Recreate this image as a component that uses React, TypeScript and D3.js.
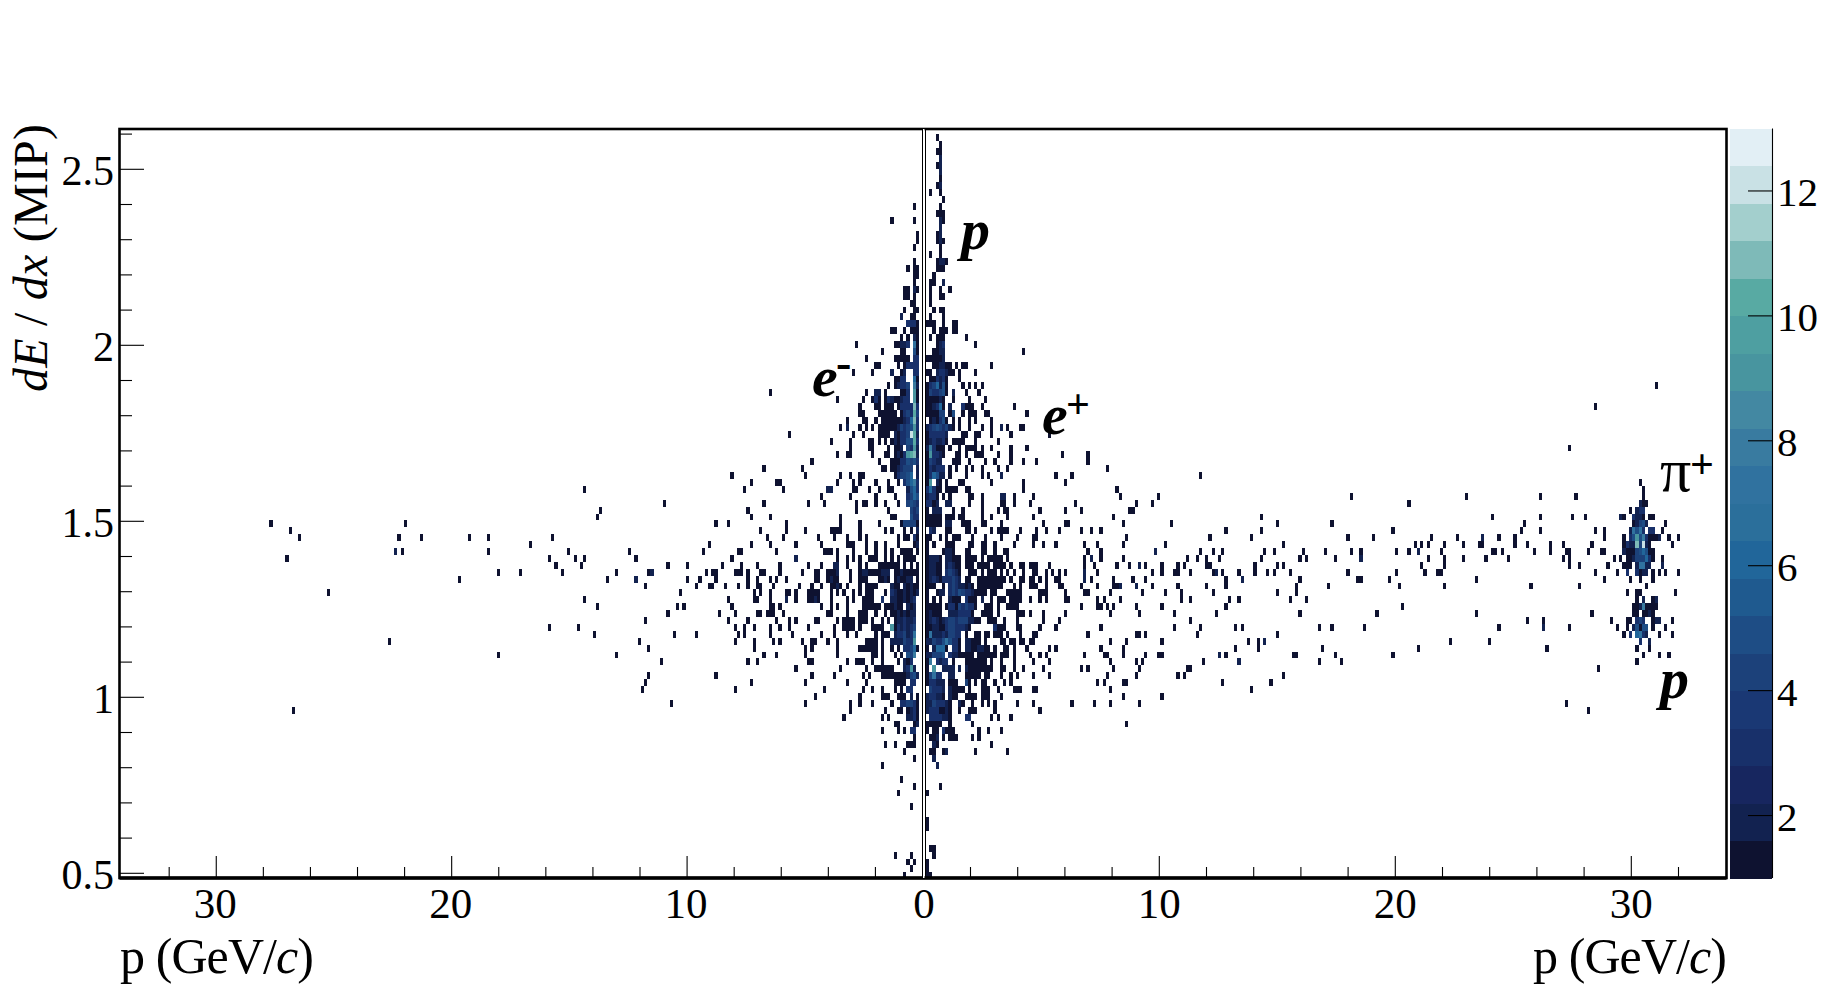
import React from "react";
import * as d3 from "d3";

// ---- histogram binning (GeV/c and MIP) ----
const binP = 0.136;
const pOrigin = 0.1144;
const binE = 0.0196;
const eTop = 2.6;

// ---- tick labels ----
const xMajor = [10, 20, 30];
const xMinor = [2, 4, 6, 8, 12, 14, 16, 18, 22, 24, 26, 28, 32];
const yMajor = [0.5, 1, 1.5, 2, 2.5];
const yMinor = [0.6, 0.7, 0.8, 0.9, 1.1, 1.2, 1.3, 1.4, 1.6, 1.7, 1.8, 1.9, 2.1, 2.2, 2.3, 2.4, 2.6];
const zTicks = [2, 4, 6, 8, 10, 12];

// ---- palette bands of the colour bar, low to high ----
const bandColors = [
  "#0e1230", "#122250", "#17265f", "#18306a", "#1a3874", "#1c417a", "#1e4d85", "#1f5a8f", "#21669a", "#2b6f9b",
  "#30729f", "#397ba0", "#4388a2", "#48959f", "#4e9fa1", "#58aaa3", "#7ebab8", "#a3cfcd", "#c9e1e5", "#e2eff5",
];

// ---- counts near p = 0, negative-charge panel: [dE/dx row, counts by momentum bin outward] ----
const leftDense: [number, string][] = [
  [10, "..1"], [12, "..1.. ....1"], [14, ".1"], [15, ".1"], [16, "..1"], [18, "..1"], [19, ".11.1"], [20, ".11"], [21, "..1"],
  [22, ".12.1 1"], [23, "..1.1 1"], [24, "..11"], [25, ".11.. 1"], [26, "..11. .2"], [27, ".1333"], [28, ".111. 1..11"],
  [29, ".12.1 .1"], [30, ".17.3 2211. ..... ..... 1"], [31, ".15.. 11... ..1"], [32, ".33.1 1111. ..... ..1"],
  [33, ".3333 1.1.. ...11"], [34, ".33.. 21..2 ..... 1.... .1"], [35, ".16.. 3311"], [36, ".28.4 3321. 1"],
  [37, ".19.3 11... .1.22 ..1"], [38, ".19.3 32112 31.13 1..1. ..... .1"], [39, ".3b33 331.1 11.11 ....1"],
  [40, ".4a34 31.11 1111. ...11"], [41, ".3b63 21111 111.1 ..11. ...1"],
  [42, ".3954 34211 1111. 1.1.1 ...2. 1"], [43, ".2ac4 3312. 1111. ...1. .1... ..... ..... ..... .1"],
  [44, ".3a55 33121 .1.1. 11... ..1.. ...1"], [45, ".2934 .211. 1.... 11... ..1."], [46, ".2ba9 3121. 11... 1.... ..11. .1"],
  [47, ".3545 33111 ...1. ..... ..... ..... ....1"], [48, ".2.44 43211 .11.. ..... ..... ..... ..... ..1"],
  [49, ".2.65 4431. ..... ...11 ..1.. 1.... ..... .1"], [50, ".3865 3.1.. 1...1 ....1 .1... .1... ..... ..... ....1"],
  [51, ".3652 ....1 1..1. .1... 11... ...22 ..... ..... ...1"], [52, ".5643 ...1. ....1 ..... ..1.. ..... .1"],
  [53, ".3454 ..1.. .1..1 ..11. 1.... ..... 1.... 1"], [54, ".434. ..... 1.... ..... 1"], [55, ".335. ...11 ..... ..... ..... 1"],
  [56, ".1444 41... ...1. ....1 ..... 1.... ..... ..... ..1"], [57, ".2.1. 1...1 .1... ....1 ..... 1111. ..... .1... ..1"],
  [58, ".13.1 1.1.. ..... ..1.1 ...1. ..1.. ..1.. ..... ...1"], [59, ".21.. ..1.. .1..1 ..1.. .111. ..... .1... ....1"],
  [60, ".1.11 11..1 .1..1 ..1.. .1... .1.11 1"], [61, "..111 1.1.1 .1..1 11..1 .1.1. .1... ..... ....2"],
  [62, ".1.1. 1.111 1111. ..1.1 ...1. .22.. .1... 1.... ....1"], [63, ".1111 1211. 22211 11221 ..1.. .2111 ..11. ..1"],
  [64, ".1.22 1121. 1211. ..111 ..1.. .1121 ..11. ..... ..1"], [65, ".1121 2.112 ....1 111.1 ...1. 1211. .1..1 ...1"],
  [66, ".2121 21123 .1... 111.1 .1..1 .1.1. ..111 1...1 .11"], [67, "..321 21122 ..3.. 1111. .1.1. ...1. ..121 1...1 ..2"],
  [68, "..212 .1121 11.11 1111. ...1. .1.1. .1"], [69, "..221 21211 .1..1 ..111 ...1. ...11 ..... ..... ...1"],
  [70, "..322 3221. 1.1.. 1.111 .1111 .1... ..11. ....1 .1"], [71, "..432 32319 ..111 1...1 .1111 ..1.. ..... 1.... .1"],
  [72, "..732 4332. 111.1 ..... 1..1. ..1.. .1... ..... 1"], [73, "..933 42222 ..1.1 111.. ..... .1..1 ...11 ..1.. ....1"],
  [74, ".1643 3.1.1 ..1.1 11111 ..... .1... ....1 .1"], [75, "..845 .1.1. ..1.1 1.... ..... .1... ..... .1"],
  [76, "...31 2.1.. ..1.. 1..11 1..1. ..... ....1 1"], [77, "..293 2...1 11111 ..1.. ..... 1.... ..... ....1"],
  [78, ".2542 11111 111.. .1.1. ..... ..1.. ....1"], [79, "..33. 1111. ..... ..1.. ...1. ..... ..... .1"],
  [80, "...33 .1.1. ..1.. 1..1. ..... ..... 1"], [81, ".1.2. 111.. 111.. ....1 ..... ..... ...1"],
  [82, ".1344 33..1 ..... 1...1 ..1.. ..... ..... .1"], [83, ".1321 .11.. .1... ..... ..1"], [84, ".1322 ..... 1.1.. ..... ....1"],
  [85, ".21.. ..11"], [86, "..33. 1.1.. ..1"], [87, "..1"], [88, "..111 ...1. .1"], [89, "..... 1"], [90, "..1"],
  [91, "..... ..... ..1"], [93, "..... .1"], [94, "..1"], [95, "..... ..1"], [97, "...1"], [104, "...1. ...1"],
  [105, "..1.1"], [106, "...1"], [107, "..... 1"],
];

// ---- counts near p = 0, positive-charge panel ----
const rightDense: [number, string][] = [
  [0, "...1"], [1, "....1"], [2, "...11"], [3, "....2"], [4, "...12"], [5, "....2"], [6, "....1"], [7, "...12"], [8, ".1..1"],
  [9, "..... 1"], [10, "....1"], [11, "...11 1"], [12, "....2 1"], [13, "....2"], [14, "...12"], [15, "...12 1"], [16, "....1"],
  [17, ".1..1"], [18, "...12 21"], [19, "...11 1"], [20, "..1"], [21, ".11.. 2"], [22, ".1..1 ..1"], [23, ".1..1 1"], [24, ".1"],
  [25, "..1.1 1"], [26, ".1... 1"], [27, "111.. 1..11"], [28, "..1.1 11.11"], [29, ".1.11 1.... ..1"], [30, "...12 3.... ..... 1"],
  [31, "..112 2.... ..... ..... ..... ..... 1"], [32, "11111 2"], [33, "..112 211.1 .11.. ..... 1"], [34, "11.23 3211. 1.... 1"],
  [35, ".1132 31... 1"], [36, "13462 51... .1.1. 1.1"], [37, "14334 51.2. ..1.. .1"], [38, "11112 1..1. ...1. ...1"],
  [39, "11236 1.2.. .3111 ..1.. ..... ..1"], [40, "11114 4.15. .1.11 1..11 ..... ..... .1"], [41, ".1213 51.1. 1..1. 1.... 1"],
  [42, "23454 3421. 1..1. ..1.. 1..2. 1...1 1"], [43, "13333 32... .11.. 11... 1.... .1... ..... ...1"], [44, "12322 31.11 11... 1.... ..1.."],
  [45, "28311 1.1.. 1.111 1.1.. 1.... .1... .1"], [46, "19332 1...1 1.1.. 111.. ..1.. .1... ..... ..... ..1"],
  [47, "14322 ...11 1..1. ...1. .1... .1... 1...1"], [48, "13233 3.1.1 ..1.1 ..1.. ..1.. 1"],
  [49, "13652 2.1.. ..1.. ..1.1 ...2. ..... ..... ..... 1.... 1"], [50, "19.21 .1... 11... ..... 1.... ..... 1.... ..... ...1"],
  [51, "36311 .1111 ..11. ..... ..... ..... 1"], [52, "2331. 1.1.. ...11 ..1.. ...22 ..1.. ...1"],
  [53, "3312. .22.. ...1. ..1.. ...11 ..1.. ..1.. ..... ..... .1"], [54, "1.222 ...1. .1... ..1.. ..1.1 1.... ..... 1.... ...1"],
  [55, "11111 .111. 11... ..1.. 1.... 1.... ...1"], [56, "11111 .22.. .111. ..11. ...1. ..... ..... .1... ...11"],
  [57, ".32.. .11.. ..11. 1.... 1.111 1...1 ....1 ..1.. .1"], [58, "11..1 .1.11 1...1 ...1. ...1. ...1. ...11"],
  [59, "1.1.. .111. ...11 ..11. .1... ..1.. ...1. .1... 1"], [60, "1.... 1221. ..11. ..11. .1..1 1"],
  [61, "12221 .2211 1.111 1.1.1 1111. 1"], [62, "12211 .2321 1.111 .1111 .1111 .1..1 1.111 ...1"],
  [63, "12211 .3432 1..11 1.1.1 11.1. 1.1.. 1..11 ..1.1 .1.1"], [64, "12321 33343 2.11. .1111 11111 .1..1 1.11. 1.1.. 11"],
  [65, "111.. 1.343 22121 .1111 1111. ..1.1 ..111 ..1.. .11"], [66, "1..12 2.343 54332 1111. 11... 11111 ..... 111.. ...1"],
  [67, "1.1.1 ..211 1.311 1.2.. 1.111 .1111 ..1.. 1.1.. ...11"], [68, "11111 .1331 43433 1..11 1.1.. 1111"],
  [69, "12111 ..222 33331 ..111 1.1.. ...11 1.1.. .1... ...1"], [70, "12321 23443 44422 11..1 11..1 ...1. ..... .1... .1"],
  [71, "11221 13443 3321. ..... .3111 ...11 ..... 1.... 1"], [72, "17222 32443 3.1.. 11.11 .111. 1...1 ...11"],
  [73, "22433 57533 1.221 11.1. ...11 .11.1 1.11"], [74, "1.266 61.33 1.221 12211 .1..1 1.1.. .1... ...1. 1"],
  [75, "22444 5.322 11111 .1111 11.11 1.1.. ..1.. 1.1.."], [76, "18.32 33.1. ..111 1111. 1..1. ..1.. ...1. ...1"],
  [77, "1.9.. 2222. 2.211 11111 1..11 ..1.. 1.... .1"], [78, "14733 ..22. ..111 11.11 ...1. .1.1. ...1. ...1"],
  [79, "13322 2.111 ..41. 1.11. .1..1 .1"], [80, ".4333 2.211 11.1. ..111 ..1.. ..111 ...11"], [81, "23322 1.211 ..111 1.111 ...1"],
  [82, "22433 321.. 21..1 ..1.1 .1... ...1. ...1. ..... ..... 1"], [83, "23331 121.. 1..11 1.... .1... ..... ..... 1"],
  [84, ".3333 221.. ..33. ..... 1.1.. .1"], [85, "11111 ..1.. ....1"], [86, "1.11. 3111. ..... .1..1 ...1"], [87, ".112. 1.111 ....1 .1"],
  [88, "..21. ..... ..... ..... 1"], [89, ".11.. 12... ..... 1.... ..... 1"], [90, "..2"], [91, "...2"], [94, "....1"], [95, "1"],
  [99, "1"], [100, "1"], [103, ".11"], [104, "..1"], [105, "1"], [106, "1"], [107, "11"],
];

// ---- the cluster of beam particles near +30 GeV/c; first momentum bin is clusterStart ----
const clusterStart = 214;
const beamCluster: [number, string][] = [
  [50, "........1"], [51, ".........1"], [52, ".........1"], [53, "........211"], [54, ".....1.233"], [55, "..21..3221.11"],
  [56, "......12452.....1"], [57, ".....27573.33..1"], [58, "...1.3595831112..1..1"], [59, "...1322b4c21......1"],
  [60, "...2111456511"], [61, "1.1.112444631..1"], [62, "...111.27722...2"], [63, ".1..3..3122.1.1.1...1"], [64, ".....1..1...1"],
  [65, "..........1"], [66, "....1..11..........1"], [67, ".......1.2..12"], [68, "......11281111"], [69, "......11.1121"],
  [70, "....11.343..122...1"], [71, ".1..1.25155.1...1"], [72, "...1.3.6732...1...1"], [73, "........3..2"], [74, ".......1...1"],
  [75, ".........1....1..1"], [76, ".......1"],
];

// ---- isolated single entries: [dE/dx row, momentum bins...] ----
const leftSparse: number[][] = [
  [37, 47], [48, 49], [49, 59], [50, 53, 44, 45], [51, 105, 55], [53, 80, 49], [54, 100, 54], [55, 101, 53, 47], [56, 64, 60, 203, 161],
  [57, 50, 197], [58, 135, 115, 48, 194, 163, 156, 141], [59, 122, 66, 53, 47], [60, 135, 110, 91, 68, 57, 56, 45, 162],
  [61, 116, 108, 105, 89, 59, 198], [62, 114, 106, 79, 73, 62, 56, 51, 44], [63, 132, 125, 112, 95, 85, 67, 65, 64, 58, 57, 56, 54, 50, 49, 44],
  [64, 98, 73, 69, 64, 54, 51, 47, 45, 144], [65, 86, 70, 66, 65, 61, 57, 54, 51, 50, 46], [66, 75, 52, 50, 47, 185], [67, 105, 60, 52, 51, 47],
  [68, 101, 76, 74, 59, 47, 46, 44], [69, 79, 63, 58, 51, 50, 48, 47, 46], [70, 86, 60, 54, 45], [71, 116, 107, 58, 55, 52, 47, 44],
  [72, 102, 77, 70, 57, 55, 47], [73, 88, 58, 52, 46, 44, 166], [74, 85, 52], [75, 132, 95, 49, 45], [76, 81, 54, 51], [78, 85, 64], [79, 86, 53],
  [80, 87, 58], [82, 78], [83, 196],
];
const rightSparse: number[][] = [
  [36, 227], [39, 208], [45, 200], [46, 50], [47, 50], [48, 56], [49, 85], [51, 59], [52, 60, 72, 132, 168, 191, 202], [53, 65, 70, 150],
  [54, 48, 63, 64], [55, 58, 104, 176, 191, 201, 205], [56, 61, 76, 109, 126, 186], [57, 48, 51, 54, 93, 104, 145, 185, 191, 208, 211],
  [58, 62, 88, 101, 131, 139, 157, 165, 178, 183, 211], [59, 49, 53, 61, 74, 111, 152, 154, 156, 161, 167, 172, 173, 183, 187, 194, 198, 207],
  [60, 50, 54, 85, 89, 92, 105, 108, 117, 124, 132, 135, 146, 150, 160, 176, 177, 179, 189, 194, 199, 200, 206, 210, 211],
  [61, 49, 54, 61, 81, 84, 87, 91, 104, 116, 118, 127, 156, 161, 167, 174, 181, 198, 200],
  [62, 49, 52, 59, 63, 68, 73, 78, 80, 87, 88, 102, 109, 111, 154, 161, 200, 203, 212],
  [63, 53, 70, 73, 77, 78, 82, 89, 92, 97, 102, 106, 108, 113, 131, 146, 155, 159, 160, 208],
  [64, 51, 58, 64, 68, 93, 116, 134, 135, 144, 171, 211], [65, 48, 53, 58, 59, 70, 78, 87, 93, 115, 125, 147, 161, 188, 203],
  [66, 49, 50, 57, 67, 74, 79, 89, 109, 115], [67, 53, 55, 60, 79, 82, 94, 97, 113, 118], [68, 48, 53, 54, 56, 58, 65, 73, 93, 148],
  [69, 57, 66, 77, 90, 116, 140, 171, 207], [70, 82, 187, 192, 213], [71, 54, 77, 85, 96, 98, 122, 126, 136, 178, 200],
  [72, 50, 65, 66, 68, 84, 109], [73, 57, 62, 73, 100, 103, 163, 175], [74, 54, 61, 96, 103, 123, 153, 193],
  [75, 49, 55, 56, 61, 68, 72, 73, 93, 114, 115, 127, 145], [76, 57, 65, 67, 86, 122, 129], [77, 48, 50, 58, 66, 81, 82, 209],
  [78, 56, 65, 78, 80, 111], [79, 53, 55, 61, 62, 92, 107], [80, 57, 101], [81, 61, 73], [82, 52, 57, 66, 199], [83, 206], [85, 62],
];

// ---- isolated double entries: [dE/dx row, momentum bin] ----
const leftDouble: [number, number][] = [[60, 164], [63, 84], [64, 89]];
const rightDouble: [number, number][] = [
  [60, 71], [61, 51], [61, 135], [62, 66], [63, 49], [63, 90], [64, 49], [64, 98], [65, 60], [65, 65], [73, 105], [75, 91], [76, 97],
  [58, 173], [60, 153], [71, 192],
];

type Cell = { side: "L" | "R"; k: number; r: number; n: number };

function parseRows(side: "L" | "R", rows: [number, string][], start = 0): Cell[] {
  const out: Cell[] = [];
  rows.forEach(([r, s]) => {
    s.replace(/ /g, "").split("").forEach((c, i) => {
      if (c !== ".") out.push({ side, k: start + i, r, n: parseInt(c, 16) });
    });
  });
  return out;
}
function parseSparse(side: "L" | "R", rows: number[][]): Cell[] {
  return rows.flatMap(([r, ...ks]) => ks.map((k) => ({ side, k, r, n: 1 })));
}

const cells: Cell[] = [
  ...parseRows("L", leftDense),
  ...parseRows("R", rightDense),
  ...parseRows("R", beamCluster, clusterStart),
  ...parseSparse("L", leftSparse),
  ...parseSparse("R", rightSparse),
  ...leftDouble.map(([r, k]) => ({ side: "L" as const, k, r, n: 2 })),
  ...rightDouble.map(([r, k]) => ({ side: "R" as const, k, r, n: 2 })),
];

const W = 1846, H = 992;
const frame = { l: 119.5, r: 1726.5, t: 129, b: 878 };
const xL = d3.scaleLinear().domain([0, 34]).range([922.5, 122.1]);
const xR = d3.scaleLinear().domain([0, 34]).range([923.3, 1725.7]);
const y = d3.scaleLinear().domain([2.5, 0.5]).range([169.3, 873.3]);
const zScale = d3.scaleLinear().domain([1, 13]).range([878, 128.5]);
const color = d3.scaleQuantize<string>().domain([1, 13]).range(bandColors);

const serif = "'Liberation Serif', 'Times New Roman', serif";

export default function App() {
  const rects = cells.map((c, i) => {
    const top = y(eTop - c.r * binE);
    const bot = Math.min(y(eTop - (c.r + 1) * binE), frame.b);
    let x0: number, x1: number;
    if (c.side === "L") {
      x0 = xL((c.k + 1) * binP);
      x1 = xL(c.k * binP);
    } else {
      x0 = xR(pOrigin + c.k * binP);
      x1 = xR(pOrigin + (c.k + 1) * binP);
    }
    return <rect key={i} x={x0} y={top} width={x1 - x0} height={bot - top} fill={color(c.n)} />;
  });
  const bandStep = 12 / bandColors.length;
  return (
    <svg width={W} height={H} viewBox={`0 0 ${W} ${H}`} style={{ position: "absolute", left: 0, top: 0, display: "block", background: "#fff" }} fontFamily={serif}>
      <g shapeRendering="crispEdges">{rects}</g>

      {/* colour bar */}
      <g shapeRendering="crispEdges">
        {bandColors.map((c, i) => (
          <rect key={c} x={1730} y={zScale(1 + (i + 1) * bandStep)} width={42} height={zScale(1 + i * bandStep) - zScale(1 + (i + 1) * bandStep) + 0.5} fill={c} />
        ))}
      </g>
      <line x1={1772.5} x2={1772.5} y1={128.5} y2={878} stroke="#000" strokeWidth={1.1} />
      {zTicks.map((t) => (
        <g key={t}>
          <line x1={1748} x2={1772} y1={zScale(t)} y2={zScale(t)} stroke="#000" strokeWidth={1.1} />
          <text x={1777} y={zScale(t) + 15} fontSize={41} fill="#000">{t}</text>
        </g>
      ))}

      {/* frame and the two panel edges at p = 0 */}
      <rect x={frame.l} y={frame.t} width={frame.r - frame.l} height={frame.b - frame.t} fill="none" stroke="#000" strokeWidth={2.6} />
      <line x1={frame.l} x2={frame.r} y1={frame.b} y2={frame.b} stroke="#000" strokeWidth={3.6} />
      <rect x={922.5} y={frame.t} width={2} height={frame.b - frame.t} fill="#fff" />
      <g shapeRendering="crispEdges">
        <line x1={922.5} x2={922.5} y1={frame.t} y2={frame.b} stroke="#000" strokeWidth={1} />
        <line x1={925.5} x2={925.5} y1={frame.t} y2={frame.b} stroke="#000" strokeWidth={1} />
      </g>

      {/* y axis */}
      {yMajor.map((v) => (
        <g key={v}>
          <line x1={120} x2={144} y1={y(v)} y2={y(v)} stroke="#000" strokeWidth={1.1} />
          <text x={114} y={y(v) + 15.5} fontSize={42} textAnchor="end" fill="#000">{v}</text>
        </g>
      ))}
      {yMinor.map((v) => (
        <line key={v} x1={120} x2={132} y1={y(v)} y2={y(v)} stroke="#000" strokeWidth={1.1} />
      ))}

      {/* x axes */}
      {xMajor.map((v) => (
        <g key={v}>
          <line x1={xL(v)} x2={xL(v)} y1={frame.b} y2={frame.b - 22} stroke="#000" strokeWidth={1.1} />
          <line x1={xR(v)} x2={xR(v)} y1={frame.b} y2={frame.b - 22} stroke="#000" strokeWidth={1.1} />
          <text x={xL(v) - 1} y={918} fontSize={43} textAnchor="middle" fill="#000">{v}</text>
          <text x={xR(v)} y={918} fontSize={43} textAnchor="middle" fill="#000">{v}</text>
        </g>
      ))}
      {xMinor.map((v) => (
        <g key={v}>
          <line x1={xL(v)} x2={xL(v)} y1={frame.b} y2={frame.b - 11} stroke="#000" strokeWidth={1.1} />
          <line x1={xR(v)} x2={xR(v)} y1={frame.b} y2={frame.b - 11} stroke="#000" strokeWidth={1.1} />
        </g>
      ))}
      <text x={924} y={918} fontSize={43} textAnchor="middle" fill="#000">0</text>

      {/* axis titles */}
      <text x={120} y={973} fontSize={50} textLength={194} fill="#000">p (GeV/<tspan fontStyle="italic">c</tspan>)</text>
      <text x={1533} y={973} fontSize={50} textLength={194} fill="#000">p (GeV/<tspan fontStyle="italic">c</tspan>)</text>
      <text transform="translate(47,392) rotate(-90)" fontSize={48} textLength={268} fill="#000">
        <tspan fontStyle="italic">dE</tspan> / <tspan fontStyle="italic">dx</tspan> (MIP)
      </text>

      {/* particle labels */}
      <text x={961} y={249} fontSize={58} fontWeight="bold" fontStyle="italic" fill="#000">p</text>
      <text x={812} y={396} fontSize={58} fontWeight="bold" fontStyle="italic" fill="#000">e</text>
      <text x={836} y={378} fontSize={46} fontWeight="bold" fill="#000">-</text>
      <text x={1042} y={434} fontSize={58} fontWeight="bold" fontStyle="italic" fill="#000">e</text>
      <text x={1066} y={418} fontSize={42} fontWeight="bold" fill="#000">+</text>
      <text x={1660} y={491} fontSize={62} fill="#000">π</text>
      <text x={1690} y={478} fontSize={42} fontWeight="bold" fill="#000">+</text>
      <text x={1660} y={698} fontSize={58} fontWeight="bold" fontStyle="italic" fill="#000">p</text>
    </svg>
  );
}
